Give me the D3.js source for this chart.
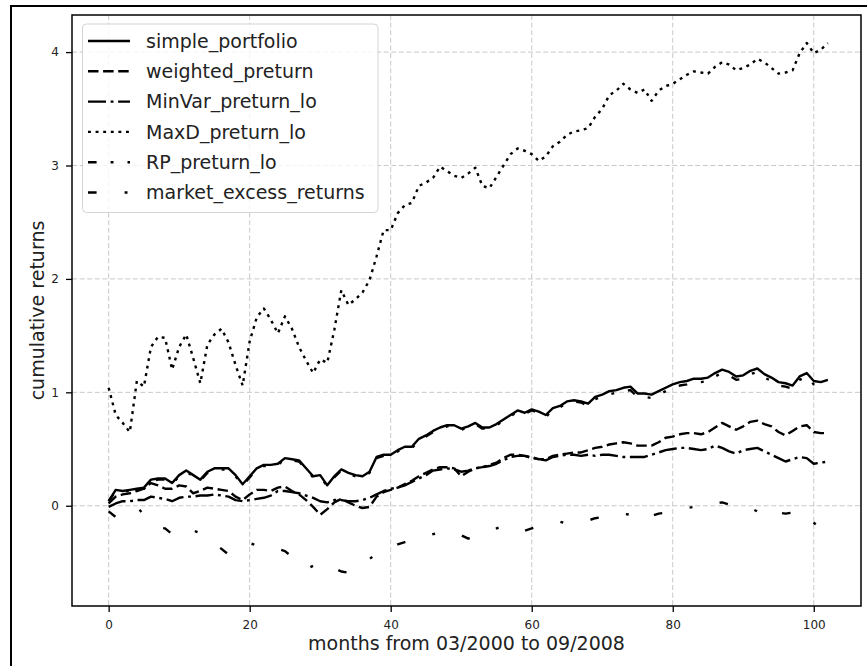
<!DOCTYPE html>
<html>
<head>
<meta charset="utf-8">
<script src="https://cdn.jsdelivr.net/npm/d3@7"></script>
<style>
  html, body { margin: 0; padding: 0; background: #fff; }
  svg { display: block; font-family: "DejaVu Sans", sans-serif; }
</style>
</head>
<body>
<svg id="chart" width="867" height="666"></svg>
<script>
// Cumulative monthly returns of six portfolio strategies, 03/2000 - 09/2008
const months = d3.range(0, 103);

const simplePortfolio = [
  0.04, 0.14, 0.13, 0.14, 0.15, 0.16, 0.23, 0.24, 0.24, 0.20,
  0.27, 0.31, 0.27, 0.23, 0.30, 0.33, 0.33, 0.33, 0.27, 0.19,
  0.26, 0.33, 0.36, 0.36, 0.37, 0.42, 0.41, 0.40, 0.33, 0.26,
  0.27, 0.18, 0.26, 0.32, 0.29, 0.27, 0.26, 0.30, 0.43, 0.45,
  0.45, 0.49, 0.52, 0.52, 0.59, 0.62, 0.66, 0.69, 0.71, 0.71,
  0.68, 0.70, 0.73, 0.69, 0.69, 0.72, 0.76, 0.80, 0.84, 0.82,
  0.85, 0.83, 0.80, 0.86, 0.88, 0.92, 0.93, 0.92, 0.90, 0.96,
  0.98, 1.01, 1.02, 1.04, 1.05, 0.99, 0.99, 0.98, 1.01, 1.04,
  1.07, 1.09, 1.10, 1.12, 1.12, 1.13, 1.17, 1.20, 1.18, 1.14,
  1.15, 1.19, 1.21, 1.16, 1.13, 1.09, 1.08, 1.06, 1.14, 1.17,
  1.10, 1.09, 1.11
];

const weightedPreturn = [
  0.02, 0.08, 0.10, 0.11, 0.13, 0.15, 0.20, 0.18, 0.15, 0.15,
  0.18, 0.17, 0.11, 0.13, 0.16, 0.15, 0.14, 0.13, 0.08, 0.05,
  0.10, 0.14, 0.14, 0.13, 0.16, 0.17, 0.13, 0.10, 0.05, -0.01,
  -0.08, -0.03, 0.03, 0.06, 0.03, 0.00, -0.02, -0.01, 0.08, 0.12,
  0.14, 0.16, 0.19, 0.22, 0.26, 0.29, 0.32, 0.34, 0.34, 0.33,
  0.26, 0.30, 0.33, 0.34, 0.36, 0.38, 0.42, 0.45, 0.45, 0.44,
  0.43, 0.41, 0.41, 0.44, 0.45, 0.46, 0.47, 0.47, 0.49, 0.51,
  0.52, 0.54, 0.55, 0.56, 0.55, 0.53, 0.53, 0.53, 0.56, 0.60,
  0.61, 0.63, 0.64, 0.64, 0.63, 0.65, 0.69, 0.73, 0.70, 0.67,
  0.70, 0.74, 0.75, 0.72, 0.70, 0.65, 0.62, 0.66, 0.70, 0.71,
  0.65, 0.64, 0.64
];

const minVarPreturnLo = [
  -0.01, 0.02, 0.04, 0.04, 0.05, 0.05, 0.08, 0.07, 0.06, 0.04,
  0.07, 0.08, 0.08, 0.09, 0.09, 0.10, 0.09, 0.08, 0.05, 0.04,
  0.05, 0.06, 0.07, 0.09, 0.13, 0.13, 0.12, 0.11, 0.09, 0.07,
  0.04, 0.03, 0.05, 0.05, 0.04, 0.04, 0.05, 0.07, 0.10, 0.13,
  0.15, 0.16, 0.18, 0.21, 0.24, 0.27, 0.31, 0.32, 0.33, 0.32,
  0.30, 0.31, 0.33, 0.34, 0.35, 0.37, 0.40, 0.43, 0.44, 0.44,
  0.42, 0.41, 0.40, 0.43, 0.44, 0.45, 0.45, 0.44, 0.45, 0.44,
  0.45, 0.45, 0.44, 0.43, 0.43, 0.43, 0.43, 0.45, 0.47, 0.49,
  0.50, 0.51, 0.51, 0.50, 0.49, 0.50, 0.53, 0.51, 0.48, 0.46,
  0.49, 0.50, 0.51, 0.48, 0.45, 0.42, 0.39, 0.41, 0.43, 0.42,
  0.37, 0.38, 0.39
];

const maxDPreturnLo = [
  1.04, 0.80, 0.73, 0.65, 1.10, 1.05, 1.40, 1.49, 1.48, 1.20,
  1.40, 1.51, 1.30, 1.08, 1.42, 1.51, 1.56, 1.44, 1.24, 1.06,
  1.45, 1.66, 1.74, 1.64, 1.52, 1.67, 1.56, 1.40, 1.28, 1.17,
  1.29, 1.26, 1.55, 1.90, 1.77, 1.82, 1.88, 1.99, 2.20, 2.43,
  2.43, 2.58, 2.65, 2.67, 2.82, 2.85, 2.89, 2.99, 2.95, 2.91,
  2.89, 2.93, 2.98, 2.82, 2.80, 2.90, 3.00, 3.10, 3.15, 3.13,
  3.10, 3.04, 3.08, 3.17, 3.21, 3.27, 3.30, 3.31, 3.33, 3.43,
  3.50, 3.62, 3.66, 3.72, 3.67, 3.64, 3.67, 3.57, 3.66, 3.70,
  3.72, 3.76, 3.80, 3.83, 3.82, 3.81, 3.87, 3.91, 3.89, 3.84,
  3.86, 3.89, 3.94, 3.91, 3.86, 3.81, 3.82, 3.84, 3.99, 4.08,
  3.99, 4.02, 4.08
];

const rpPreturnLo = [
  0.04, 0.13, 0.13, 0.13, 0.14, 0.15, 0.22, 0.23, 0.23, 0.19,
  0.26, 0.30, 0.26, 0.22, 0.29, 0.32, 0.32, 0.32, 0.26, 0.18,
  0.25, 0.32, 0.35, 0.35, 0.36, 0.41, 0.40, 0.39, 0.32, 0.25,
  0.26, 0.17, 0.25, 0.31, 0.28, 0.26, 0.25, 0.29, 0.42, 0.44,
  0.44, 0.48, 0.51, 0.51, 0.57, 0.61, 0.65, 0.68, 0.70, 0.70,
  0.67, 0.69, 0.72, 0.68, 0.68, 0.71, 0.75, 0.79, 0.83, 0.81,
  0.84, 0.82, 0.78, 0.85, 0.87, 0.90, 0.92, 0.91, 0.88, 0.94,
  0.96, 0.98, 1.00, 1.01, 1.02, 0.96, 0.96, 0.95, 0.98, 1.01,
  1.04, 1.06, 1.07, 1.09, 1.09, 1.10, 1.14, 1.17, 1.15, 1.11,
  1.12, 1.16, 1.18, 1.13, 1.10, 1.06, 1.05, 1.03, 1.11, 1.14,
  1.07, 1.06, 1.08
];

const marketExcessReturns = [
  -0.05, -0.10, -0.06, -0.03, -0.01, -0.08, -0.15, -0.19, -0.20, -0.25,
  -0.28, -0.27, -0.22, -0.24, -0.27, -0.33, -0.38, -0.43, -0.40, -0.36,
  -0.33, -0.35, -0.37, -0.36, -0.38, -0.40, -0.45, -0.50, -0.56, -0.53,
  -0.50, -0.51, -0.55, -0.58, -0.59, -0.57, -0.52, -0.47, -0.42, -0.40,
  -0.37, -0.34, -0.32, -0.30, -0.28, -0.26, -0.25, -0.24, -0.22, -0.24,
  -0.26, -0.29, -0.27, -0.24, -0.21, -0.20, -0.18, -0.17, -0.19, -0.22,
  -0.20, -0.18, -0.16, -0.15, -0.14, -0.16, -0.14, -0.14, -0.13, -0.11,
  -0.10, -0.08, -0.09, -0.07, -0.08, -0.13, -0.11, -0.09, -0.07, -0.06,
  -0.04, -0.03, -0.02, -0.01, 0.01, 0.03, 0.02, 0.03, 0.01, 0.02,
  0.01, -0.02, -0.05, -0.10, -0.09, -0.06, -0.07, -0.06, -0.04, -0.10,
  -0.15, -0.20, -0.19
];

const seriesNames = [
  "simple_portfolio", "weighted_preturn", "MinVar_preturn_lo",
  "MaxD_preturn_lo", "RP_preturn_lo", "market_excess_returns"
];
const seriesValues = [
  simplePortfolio, weightedPreturn, minVarPreturnLo,
  maxDPreturnLo, rpPreturnLo, marketExcessReturns
];
const xTicks = [0, 20, 40, 60, 80, 100];
const yTicks = [0, 1, 2, 3, 4];
const xLabel = "months from 03/2000 to 09/2008";
const yLabel = "cumulative returns";

// line dash patterns (solid, dashed, dash-dot, dotted, dash-dot-dot, loose dash-dot)
const dashes = [null, "10.5,4.6", "18,4.6,2.9,4.6", "2.9,4.7",
                "8.6,14,2.9,14,2.9,14", "8.6,28,2.9,28"];

const svg = d3.select("#chart");
const plot = { left: 72, right: 861, top: 15, bottom: 606 };

const x = d3.scaleLinear().domain([-5.2, 106.7]).range([plot.left, plot.right]);
const y = d3.scaleLinear().domain([-0.884, 4.327]).range([plot.bottom, plot.top]);

// figure frame
svg.append("rect").attr("x", 11).attr("y", 6).attr("width", 880).attr("height", 700)
  .attr("fill", "none").attr("stroke", "#000").attr("stroke-width", 2);

// grid
const grid = svg.append("g").attr("stroke", "#c8c8c8").attr("stroke-width", 1)
  .attr("stroke-dasharray", "5,2.6");
grid.selectAll(".gx").data(xTicks).join("line")
  .attr("x1", d => x(d)).attr("x2", d => x(d))
  .attr("y1", plot.top).attr("y2", plot.bottom);
grid.selectAll(".gy").data(yTicks).join("line")
  .attr("y1", d => y(d)).attr("y2", d => y(d))
  .attr("x1", plot.left).attr("x2", plot.right);

// series
const line = d3.line().x((d, i) => x(months[i])).y(d => y(d));
const lines = svg.append("g").attr("fill", "none");
seriesValues.forEach((vals, k) => {
  lines.append("path")
    .attr("d", line(vals))
    .attr("stroke", "#000")
    .attr("stroke-width", 2.4)
    .attr("stroke-linejoin", "round")
    .attr("stroke-dasharray", dashes[k]);
});

// axes
const fmt = d3.format("d");
const xAxis = d3.axisBottom(x).tickValues(xTicks).tickFormat(fmt).tickSize(6).tickPadding(8);
const yAxis = d3.axisLeft(y).tickValues(yTicks).tickFormat(fmt).tickSize(6).tickPadding(7);

const gx = svg.append("g").attr("transform", `translate(0,${plot.bottom})`).call(xAxis);
const gy = svg.append("g").attr("transform", `translate(${plot.left},0)`).call(yAxis);
[gx, gy].forEach(g => {
  g.select(".domain").remove();
  g.selectAll(".tick line").attr("stroke", "#000").attr("stroke-width", 1.3);
  g.selectAll(".tick text").attr("fill", "#222").style("font-size", "12px")
    .style("font-family", "DejaVu Sans");
});

// spines
svg.append("rect")
  .attr("x", plot.left).attr("y", plot.top)
  .attr("width", plot.right - plot.left).attr("height", plot.bottom - plot.top)
  .attr("fill", "none").attr("stroke", "#000").attr("stroke-width", 1.5);

// axis labels
svg.append("text").attr("x", (plot.left + plot.right) / 2).attr("y", 650)
  .attr("text-anchor", "middle").style("font-size", "19px").attr("fill", "#222")
  .text(xLabel);
svg.append("text")
  .attr("transform", `translate(44,${(plot.top + plot.bottom) / 2}) rotate(-90)`)
  .attr("text-anchor", "middle").style("font-size", "19px").attr("fill", "#222")
  .text(yLabel);

// legend
const legend = svg.append("g");
legend.append("rect")
  .attr("x", 82.5).attr("y", 24).attr("width", 295.5).attr("height", 188.5)
  .attr("rx", 4).attr("fill", "#fff").attr("fill-opacity", 0.8)
  .attr("stroke", "#d4d4d4").attr("stroke-width", 1);
const rows = legend.selectAll(".row").data(seriesNames).join("g")
  .attr("transform", (d, i) => `translate(0,${41 + i * 30.3})`);
rows.append("line")
  .attr("x1", 88).attr("x2", 130).attr("y1", 0).attr("y2", 0)
  .attr("stroke", "#000").attr("stroke-width", 2.4)
  .attr("stroke-dasharray", (d, i) => dashes[i]);
rows.append("text")
  .attr("x", 146).attr("y", 0).attr("dy", "0.35em")
  .style("font-size", "19px").attr("fill", "#222")
  .text(d => d);
</script>
</body>
</html>
